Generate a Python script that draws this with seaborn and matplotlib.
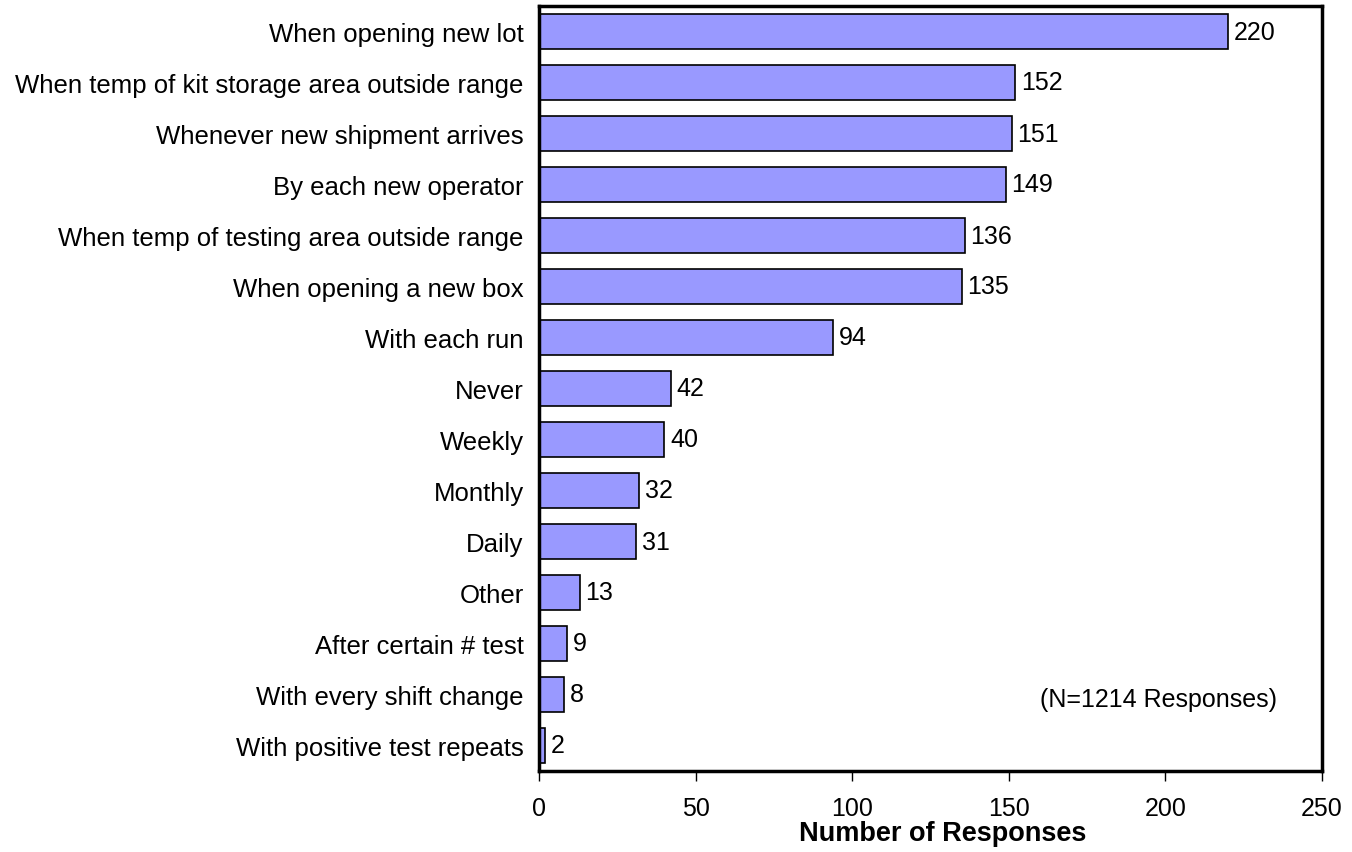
import matplotlib
matplotlib.use("Agg")
import matplotlib.pyplot as plt
import pandas as pd
import seaborn as sns

categories = [
    "When opening new lot",
    "When temp of kit storage area outside range",
    "Whenever new shipment arrives",
    "By each new operator",
    "When temp of testing area outside range",
    "When opening a new box",
    "With each run",
    "Never",
    "Weekly",
    "Monthly",
    "Daily",
    "Other",
    "After certain # test",
    "With every shift change",
    "With positive test repeats",
]
responses = [220, 152, 151, 149, 136, 135, 94, 42, 40, 32, 31, 13, 9, 8, 2]
x_ticks = [0, 50, 100, 150, 200, 250]
note = "(N=1214 Responses)"

sns.set_theme(style="white")
plt.rcParams["font.family"] = ["Liberation Sans", "DejaVu Sans"]
plt.rcParams["text.color"] = "black"

df = pd.DataFrame({"Category": categories, "Responses": responses})

fig = plt.figure(figsize=(13.52, 8.53), dpi=100)
ax = fig.add_axes([539 / 1352, 1 - 772 / 853, (1322 - 539) / 1352, (772 - 7) / 853])

sns.barplot(
    data=df,
    x="Responses",
    y="Category",
    color="#9999FF",
    saturation=1,
    edgecolor="black",
    linewidth=1.2,
    width=0.7,
    ax=ax,
)

for i, v in enumerate(responses):
    ax.text(v + 1.8, i, str(v), va="center", ha="left", fontsize=18, color="black")

ax.set_xlim(0, 250)
ax.set_ylim(len(categories) - 0.5, -0.5)
ax.set_xticks(x_ticks)
ax.tick_params(axis="x", direction="out", length=7, width=1, labelsize=18, pad=11, bottom=True,
               colors="black")
ax.tick_params(axis="y", length=0, labelsize=18.5, pad=11, labelcolor="black")
ax.set_ylabel("")
ax.set_xlabel("Number of Responses", fontsize=19.5, fontweight="bold", color="black")
ax.xaxis.set_label_coords(0.516, -0.064)
ax.xaxis.label.set_va("top")

for side in ax.spines.values():
    side.set_visible(True)
    side.set_color("black")
    side.set_linewidth(2.5)

ax.text(0.9425, 0.094, note, transform=ax.transAxes, ha="right", va="center", fontsize=18,
        color="black")

fig.savefig("out.png", dpi=100)
